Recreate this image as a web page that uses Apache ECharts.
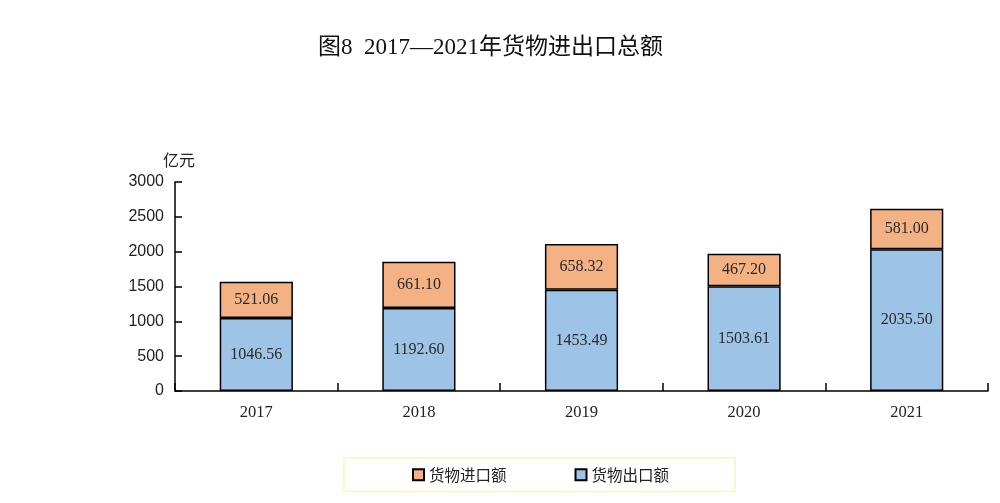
<!DOCTYPE html>
<html>
<meta charset="UTF-8">
<title>goods-trade</title>
<style type="text/css">
    html,
    body {
        margin: 0px;
        height: 100%;
        width: 100%;
        background: #fff;
    }

    #chart {
        width: 1000px;
        height: 503px;
    }
</style>
<script src="https://cdn.jsdelivr.net/npm/echarts@6/dist/echarts.min.js"></script>

<body>
    <div id="chart"></div>
    <script>

        const years = ['2017', '2018', '2019', '2020', '2021'];
        const exportVals = [1046.56, 1192.60, 1453.49, 1503.61, 2035.50];
        const importVals = [521.06, 661.10, 658.32, 467.20, 581.00];
        const yTicks = [0, 500, 1000, 1500, 2000, 2500, 3000];

        const serif = 'Liberation Serif, Noto Sans CJK SC';
        const labelFont = 'Liberation Serif, serif';

        const chart = echarts.init(document.querySelector('#chart'));

        const label = {
            show: true,
            position: 'inside',
            color: '#2a2a2a',
            fontSize: 16,
            fontFamily: labelFont,
            formatter: p => p.value.toFixed(2)
        };

        const options = {
            animation: false,
            title: {
                text: '图8  2017—2021年货物进出口总额',
                left: 313,
                top: 31,
                textStyle: { fontSize: 23, fontWeight: 'normal', color: '#111', fontFamily: serif }
            },
            legend: {
                data: ['货物进口额', '货物出口额'],
                icon: 'rect',
                left: 344,
                top: 458,
                width: 396,
                padding: [9, 66, 9, 68],
                itemGap: 68,
                itemWidth: 11,
                itemHeight: 11,
                borderColor: '#fbf6cf',
                borderWidth: 2,
                textStyle: { fontSize: 15.5, color: '#222', fontFamily: 'Noto Sans CJK SC' }
            },
            grid: { left: 175, right: 12, top: 182, bottom: 112 },
            xAxis: {
                type: 'category',
                data: years,
                axisLine: { lineStyle: { color: '#000', width: 1.5 } },
                axisTick: { show: true, inside: true, length: 8, lineStyle: { color: '#000', width: 1.5 } },
                axisLabel: { fontSize: 16.5, color: '#222', fontFamily: labelFont, margin: 13 }
            },
            yAxis: {
                type: 'value',
                min: 0,
                max: 3000,
                interval: 500,
                name: '亿元',
                nameGap: 14,
                nameTextStyle: { fontSize: 16, color: '#222', fontFamily: 'Noto Sans CJK SC', align: 'center', padding: [0, 0, 0, 8] },
                splitLine: { show: false },
                axisLine: { show: true, lineStyle: { color: '#000', width: 1.5 } },
                axisTick: { show: true, inside: true, length: 7, lineStyle: { color: '#000', width: 1.5 } },
                axisLabel: {
                    fontSize: 16, color: '#222', fontFamily: 'Liberation Sans, Arial, sans-serif', margin: 11,
                    formatter: v => yTicks.includes(v) ? String(v) : ''
                }
            },
            series: [
                {
                    name: '货物出口额',
                    type: 'bar',
                    stack: 'total',
                    barWidth: '45%',
                    data: exportVals,
                    itemStyle: { color: '#9dc3e6', borderColor: '#000', borderWidth: 1.5 },
                    label
                },
                {
                    name: '货物进口额',
                    type: 'bar',
                    stack: 'total',
                    data: importVals,
                    itemStyle: { color: '#f4b183', borderColor: '#000', borderWidth: 1.5 },
                    label
                }
            ]
        };
        chart.setOption(options);

    </script>
</body>

</html>
